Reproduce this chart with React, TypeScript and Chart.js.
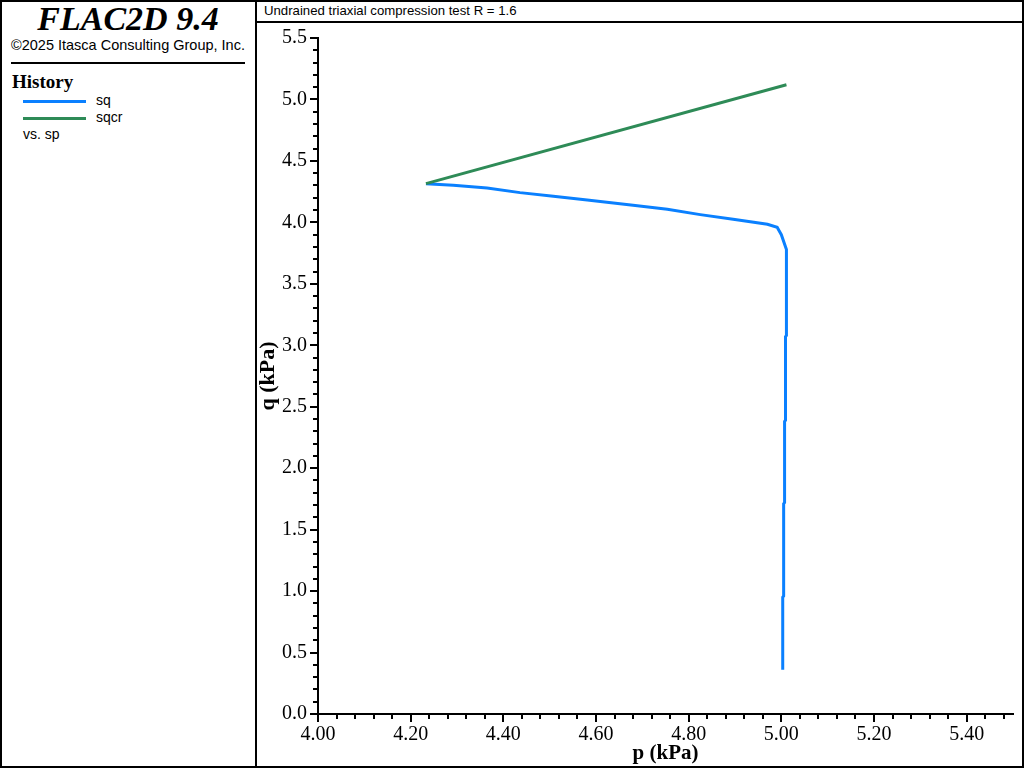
import React, { useEffect, useRef } from "react";
import { Chart, registerables } from "chart.js";

Chart.register(...registerables);

// sq history (p, q) in kPa
const sqP = [5.003, 5.003, 5.005, 5.005, 5.007, 5.007, 5.009, 5.009, 5.011, 5.011, 5.0, 4.991, 4.97, 4.896, 4.825, 4.754, 4.68, 4.581, 4.508, 4.436, 4.365, 4.292, 4.233];
const sqQ = [0.36, 0.95, 0.96, 1.71, 1.72, 2.38, 2.39, 3.07, 3.08, 3.78, 3.9, 3.96, 3.985, 4.025, 4.063, 4.107, 4.139, 4.182, 4.212, 4.242, 4.28, 4.302, 4.315];
// sqcr history (p, q) in kPa
const sqcrP = [4.233, 5.011];
const sqcrQ = [4.315, 5.12];

const xMajorTicks = [4.0, 4.2, 4.4, 4.6, 4.8, 5.0, 5.2, 5.4];
const yMajorTicks = [0.0, 0.5, 1.0, 1.5, 2.0, 2.5, 3.0, 3.5, 4.0, 4.5, 5.0, 5.5];

const seriesNames = ["sq", "sqcr"];
const seriesColors = ["#0a80ff", "#2e8b57"];

const tickPlugin = {
  id: "minorTicks",
  afterDraw(chart: any) {
    const ctx = chart.ctx;
    const xs = chart.scales.x;
    const ys = chart.scales.y;
    const area = chart.chartArea;
    ctx.save();
    ctx.strokeStyle = "#000";
    ctx.lineWidth = 2;
    for (let i = 0; i <= 37; i++) {
      const v = 4.0 + i * 0.04;
      if (v > 5.5 + 1e-9) break;
      const px = Math.round(xs.getPixelForValue(v));
      const major = i % 5 === 0;
      ctx.beginPath();
      ctx.moveTo(px, area.bottom);
      ctx.lineTo(px, area.bottom + (major ? 8 : 5));
      ctx.stroke();
    }
    for (let i = 0; i <= 55; i++) {
      const v = i * 0.1;
      const py = Math.round(ys.getPixelForValue(v));
      const major = i % 5 === 0;
      ctx.beginPath();
      ctx.moveTo(area.left, py);
      ctx.lineTo(area.left - (major ? 8 : 5), py);
      ctx.stroke();
    }
    ctx.fillStyle = "#000";
    ctx.font = "bold 21px 'Liberation Serif', serif";
    ctx.textAlign = "center";
    ctx.textBaseline = "middle";
    ctx.fillText("p (kPa)", (area.left + area.right) / 2, area.bottom + 40);
    ctx.font = "bold 22px 'Liberation Serif', serif";
    ctx.translate(area.left - 50, (area.top + area.bottom) / 2);
    ctx.rotate(-Math.PI / 2);
    ctx.fillText("q (kPa)", 0, 0);
    ctx.restore();
  },
};

export default function App() {
  const ref = useRef<HTMLCanvasElement>(null);
  useEffect(() => {
    const toPts = (xs: number[], ys: number[]) => xs.map((x, i) => ({ x, y: ys[i] }));
    const chart = new Chart(ref.current!, {
      type: "scatter",
      data: {
        datasets: [
          {
            label: seriesNames[1],
            data: toPts(sqcrP, sqcrQ),
            showLine: true,
            borderColor: seriesColors[1],
            borderWidth: 3,
            pointRadius: 0,
            tension: 0,
          },
          {
            label: seriesNames[0],
            data: toPts(sqP, sqQ),
            showLine: true,
            borderColor: seriesColors[0],
            borderWidth: 3,
            pointRadius: 0,
            tension: 0,
          },
        ],
      },
      options: {
        animation: false,
        responsive: false,
        maintainAspectRatio: false,
        layout: { padding: { left: 0, top: 13, right: 9, bottom: 0 } },
        plugins: { legend: { display: false }, tooltip: { enabled: false } },
        scales: {
          x: {
            type: "linear",
            min: 4.0,
            max: 5.5,
            afterBuildTicks: (s: any) => {
              s.ticks = xMajorTicks.map((v) => ({ value: v }));
            },
            afterFit: (s: any) => {
              s.height = 52;
            },
            ticks: {
              color: "#000",
              font: { family: "'Liberation Serif', serif", size: 20 },
              padding: 1,
              maxRotation: 0,
              autoSkip: false,
              callback: (v: any) => Number(v).toFixed(2),
            },
            grid: { display: true, drawOnChartArea: false, color: "rgba(0,0,0,0)", tickLength: 8 },
            border: { display: true, color: "#000", width: 2 },
          },
          y: {
            type: "linear",
            min: 0,
            max: 5.5,
            afterBuildTicks: (s: any) => {
              s.ticks = yMajorTicks.map((v) => ({ value: v }));
            },
            afterFit: (s: any) => {
              s.width = 60;
            },
            ticks: {
              color: "#000",
              font: { family: "'Liberation Serif', serif", size: 20 },
              padding: 3,
              autoSkip: false,
              callback: (v: any) => Number(v).toFixed(1),
            },
            grid: { display: true, drawOnChartArea: false, color: "rgba(0,0,0,0)", tickLength: 8 },
            border: { display: true, color: "#000", width: 2 },
          },
        },
      },
      plugins: [tickPlugin],
    });
    return () => chart.destroy();
  }, []);

  const sans = "'Liberation Sans', Arial, sans-serif";
  const serif = "'Liberation Serif', 'Times New Roman', serif";

  return (
    <div style={{ position: "fixed", left: 0, top: 0, width: 1024, height: 768, background: "#fff", overflow: "hidden" }}>
      <div style={{ position: "absolute", left: 0, top: 0, width: 1020, height: 764, border: "2px solid #000" }} />
      <div style={{ position: "absolute", left: 255, top: 0, width: 2, height: 768, background: "#000" }} />
      <div style={{ position: "absolute", left: 255, top: 21, width: 769, height: 2, background: "#000" }} />
      <div style={{ position: "absolute", left: 264, top: 3, fontFamily: sans, fontSize: 13.2, color: "#000", whiteSpace: "nowrap" }}>
        Undrained triaxial compression test R = 1.6
      </div>
      <div style={{ position: "absolute", left: 0, top: 0, width: 256, textAlign: "center", fontFamily: serif, fontWeight: "bold", fontStyle: "italic", fontSize: 34, lineHeight: "37px", color: "#000" }}>
        FLAC2D 9.4
      </div>
      <div style={{ position: "absolute", left: 11, top: 37, fontFamily: sans, fontSize: 14.5, color: "#000", whiteSpace: "nowrap" }}>
        ©2025 Itasca Consulting Group, Inc.
      </div>
      <div style={{ position: "absolute", left: 11, top: 62, width: 234, height: 2, background: "#000" }} />
      <div style={{ position: "absolute", left: 12, top: 71, fontFamily: serif, fontWeight: "bold", fontSize: 19, color: "#000" }}>History</div>
      <div style={{ position: "absolute", left: 23, top: 100, width: 63, height: 3, background: seriesColors[0] }} />
      <div style={{ position: "absolute", left: 96, top: 92, fontFamily: sans, fontSize: 14, color: "#000" }}>{seriesNames[0]}</div>
      <div style={{ position: "absolute", left: 23, top: 117, width: 63, height: 3, background: seriesColors[1] }} />
      <div style={{ position: "absolute", left: 96, top: 109, fontFamily: sans, fontSize: 14, color: "#000" }}>{seriesNames[1]}</div>
      <div style={{ position: "absolute", left: 23, top: 126, fontFamily: sans, fontSize: 14, color: "#000" }}>vs. sp</div>
      <canvas ref={ref} width={764} height={743} style={{ position: "absolute", left: 258, top: 23, width: 764, height: 743 }} />
    </div>
  );
}
